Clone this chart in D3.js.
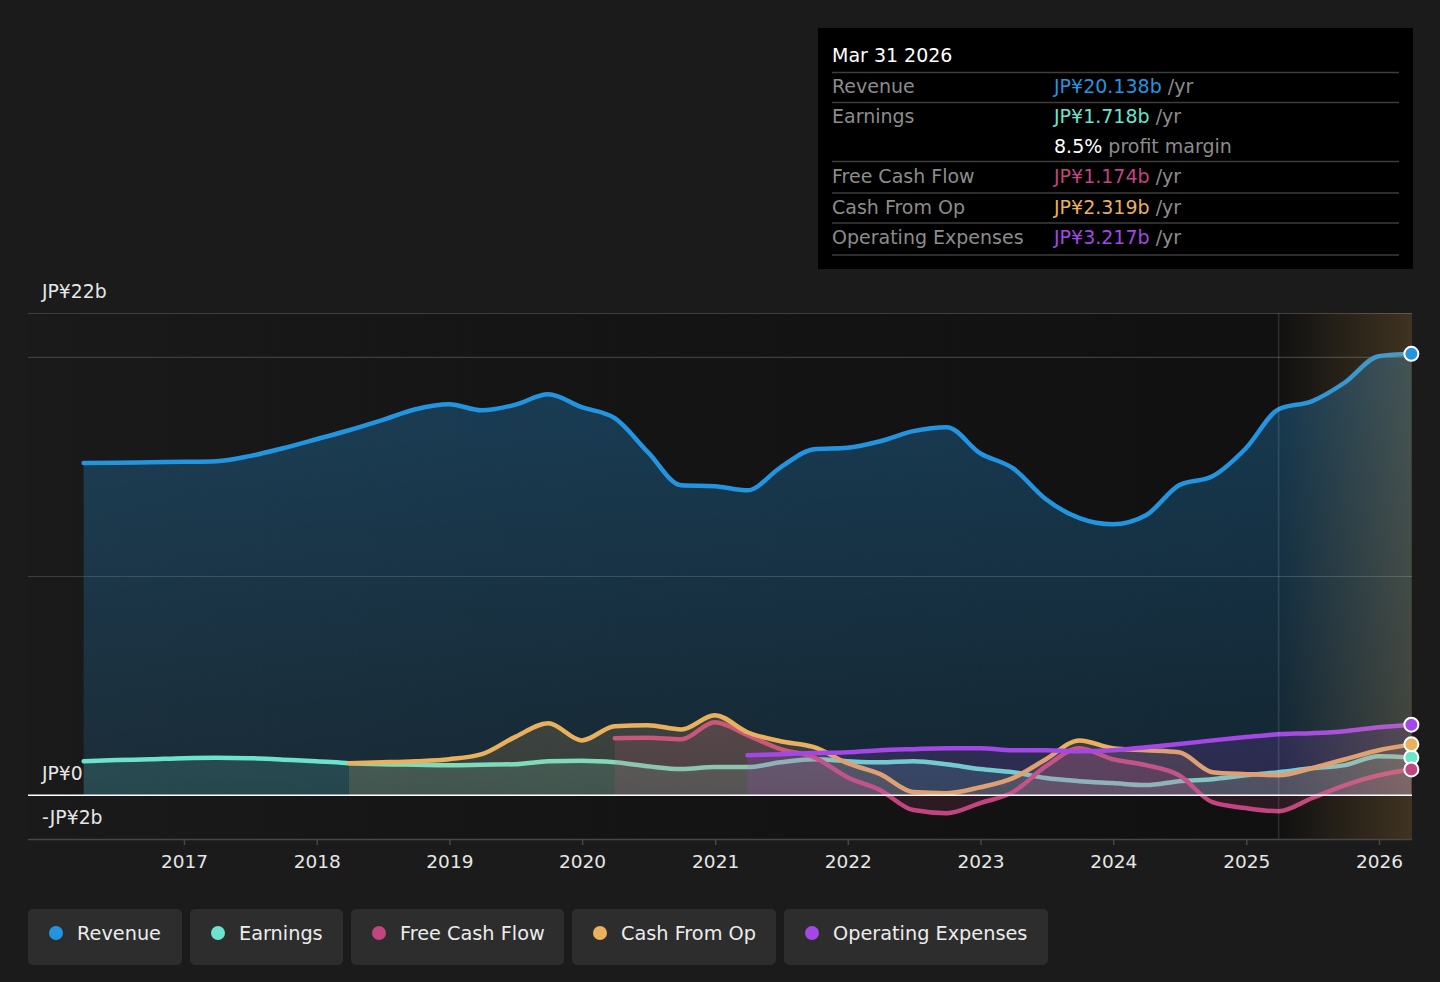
<!DOCTYPE html>
<html>
<head>
<meta charset="utf-8">
<script src="https://cdn.jsdelivr.net/npm/d3@7/dist/d3.min.js"></script>
<style>
  html, body { margin: 0; padding: 0; background: #1b1b1b; }
  svg { display: block; font-family: "DejaVu Sans", sans-serif; }
</style>
</head>
<body>
<svg id="chart" width="1440" height="982"></svg>
<script>
// ---------------- DATA ----------------
const quarters = [
  "2016-03-31","2016-06-30","2016-09-30","2016-12-31",
  "2017-03-31","2017-06-30","2017-09-30","2017-12-31",
  "2018-03-31","2018-06-30","2018-09-30","2018-12-31",
  "2019-03-31","2019-06-30","2019-09-30","2019-12-31",
  "2020-03-31","2020-06-30","2020-09-30","2020-12-31",
  "2021-03-31","2021-06-30","2021-09-30","2021-12-31",
  "2022-03-31","2022-06-30","2022-09-30","2022-12-31",
  "2023-03-31","2023-06-30","2023-09-30","2023-12-31",
  "2024-03-31","2024-06-30","2024-09-30","2024-12-31",
  "2025-03-31","2025-06-30","2025-09-30","2025-12-31",
  "2026-03-31"
];

// values in JP¥ billions
const revenue = [
  15.16,15.17,15.19,15.21, 15.24,15.47,15.83,16.24, 16.65,17.11,17.61,17.84,
  17.56,17.81,18.29,17.70, 17.20,15.65,14.14,14.10, 13.91,14.96,15.78,15.85,
  16.15,16.61,16.79,15.60, 14.92,13.50,12.64,12.36, 12.77,14.14,14.55,15.83,
  17.61,17.97,18.84,20.03, 20.138
];
const earnings = [
  1.55,1.60,1.64,1.69, 1.71,1.69,1.62,1.55, 1.46,1.41,1.39,1.37,
  1.39,1.41,1.55,1.57, 1.50,1.32,1.19,1.28, 1.28,1.50,1.64,1.55,
  1.50,1.55,1.41,1.19, 1.05,0.78,0.64,0.55, 0.46,0.64,0.73,0.91,
  1.05,1.23,1.37,1.78, 1.718
];
const freeCashFlow = [
  null,null,null,null, null,null,null,null, null,null,null,null,
  null,null,null,null, 2.60,2.62,2.55,3.33, 2.74,2.10,1.73,0.82,
  0.23,-0.68,-0.82,-0.36, 0.14,1.32,2.14,1.64, 1.37,0.91,-0.32,-0.59,
  -0.73,-0.14,0.46,0.91, 1.174
];
const cashFromOp = [
  null,null,null,null, null,null,null,null, 1.46,1.50,1.55,1.64,
  1.87,2.65,3.28,2.50, 3.15,3.19,3.00,3.65, 2.87,2.46,2.19,1.46,
  0.96,0.14,0.09,0.36, 0.78,1.64,2.50,2.14, 2.05,1.96,1.05,0.96,
  0.91,1.23,1.64,2.05, 2.319
];
const operatingExpenses = [
  null,null,null,null, null,null,null,null, null,null,null,null,
  null,null,null,null, null,null,null,null, 1.82,1.87,1.92,1.96,
  2.05,2.10,2.14,2.14, 2.05,2.05,2.00,2.05, 2.19,2.33,2.50,2.65,
  2.78,2.83,2.92,3.10, 3.217
];

const seriesNames  = ["Revenue","Earnings","Free Cash Flow","Cash From Op","Operating Expenses"];
const seriesValues = [revenue, earnings, freeCashFlow, cashFromOp, operatingExpenses];
const seriesColors = ["#2394df","#6ce3cd","#c2457f","#e9b05e","#a348e6"];

const yTickLabels = [{v:22, t:"JP¥22b"}, {v:0, t:"JP¥0"}, {v:-2, t:"-JP¥2b"}];
const yGridValues = [22, 20, 10];
const xTickYears  = [2017,2018,2019,2020,2021,2022,2023,2024,2025,2026];
const forecastStart = "2025-03-31";

const tooltipTitle = "Mar 31 2026";
const tooltipRows = [
  {label:"Revenue", value:"JP¥20.138b", suffix:" /yr", color:0},
  {label:"Earnings", value:"JP¥1.718b", suffix:" /yr", color:1},
  {label:"", value:"8.5%", suffix:" profit margin", color:-1},
  {label:"Free Cash Flow", value:"JP¥1.174b", suffix:" /yr", color:2},
  {label:"Cash From Op", value:"JP¥2.319b", suffix:" /yr", color:3},
  {label:"Operating Expenses", value:"JP¥3.217b", suffix:" /yr", color:4}
];

// ---------------- LAYOUT ----------------
const svg = d3.select("#chart");
const plotL = 28, plotR = 1412, plotT = 313, plotB = 839;
const parse = d3.timeParse("%Y-%m-%d");
const dates = quarters.map(parse);

const x = d3.scaleTime()
  .domain([new Date(2017,0,1), new Date(2026,0,1)])
  .range([184, 1379]);
const y = d3.scaleLinear().domain([-2, 22]).range([plotB, plotT]);

const defs = svg.append("defs");

// plot background gradient
const bg = defs.append("linearGradient").attr("id","plotbg").attr("x1",0).attr("x2",1).attr("y1",0).attr("y2",0);
bg.append("stop").attr("offset",0).attr("stop-color","#1a1a1a");
bg.append("stop").attr("offset",0.35).attr("stop-color","#151515");
bg.append("stop").attr("offset",1).attr("stop-color","#101010");

svg.append("rect").attr("x",0).attr("y",0).attr("width",1440).attr("height",982).attr("fill","#1b1b1b");
svg.append("rect").attr("x",plotL).attr("y",plotT).attr("width",plotR-plotL).attr("height",plotB-plotT).attr("fill","url(#plotbg)");

// gridlines
svg.append("g")
  .attr("transform",`translate(${plotL},0)`)
  .call(d3.axisLeft(y).tickValues(yGridValues).tickSize(-(plotR-plotL)).tickFormat(""))
  .call(g => g.select(".domain").remove())
  .call(g => g.selectAll(".tick line").attr("stroke","#3e3e3e").attr("stroke-width",1.2));

// series gradients
seriesColors.forEach((c,i) => {
  const g = defs.append("linearGradient").attr("id","ag"+i)
    .attr("gradientUnits","userSpaceOnUse").attr("x1",0).attr("x2",0)
    .attr("y1",plotT).attr("y2",y(0));
  g.append("stop").attr("offset",0).attr("stop-color",c).attr("stop-opacity",0.34);
  g.append("stop").attr("offset",1).attr("stop-color",c).attr("stop-opacity",0.15);
});

const plotG = svg.append("g");
seriesValues.forEach((vals,i) => {
  const pts = dates.map((d,k) => ({d, v: vals[k]}));
  const area = d3.area()
    .defined(p => p.v !== null)
    .x(p => x(p.d)).y0(y(0)).y1(p => y(p.v))
    .curve(d3.curveMonotoneX);
  const line = d3.line()
    .defined(p => p.v !== null)
    .x(p => x(p.d)).y(p => y(p.v))
    .curve(d3.curveMonotoneX);
  plotG.append("path").datum(pts).attr("d",area).attr("fill",`url(#ag${i})`);
  plotG.append("path").datum(pts).attr("d",line)
    .attr("fill","none").attr("stroke",seriesColors[i]).attr("stroke-width",4.5)
    .attr("stroke-linejoin","round").attr("stroke-linecap","round");
});

// forecast overlay
const fg = defs.append("linearGradient").attr("id","fc").attr("x1",0).attr("x2",1).attr("y1",0).attr("y2",0);
fg.append("stop").attr("offset",0).attr("stop-color","#e8af5b").attr("stop-opacity",0.0);
fg.append("stop").attr("offset",1).attr("stop-color","#e8af5b").attr("stop-opacity",0.22);
const fx = x(parse(forecastStart));
svg.append("rect").attr("x",fx).attr("y",plotT).attr("width",plotR-fx).attr("height",plotB-plotT)
  .attr("fill","url(#fc)");
svg.append("line").attr("x1",fx).attr("x2",fx).attr("y1",plotT).attr("y2",plotB)
  .attr("stroke","#ffffff").attr("stroke-opacity",0.12).attr("stroke-width",1.5);

// zero line
svg.append("line").attr("x1",plotL).attr("x2",plotR).attr("y1",y(0)).attr("y2",y(0))
  .attr("stroke","#ffffff").attr("stroke-width",1.5);

// x axis
svg.append("g")
  .attr("transform",`translate(0,${plotB})`)
  .call(d3.axisBottom(x).tickValues(xTickYears.map(yr => new Date(yr,0,1)))
        .tickSize(6).tickPadding(6).tickFormat(d3.timeFormat("%Y")))
  .call(g => g.select(".domain").attr("d",`M${plotL},0.5H${plotR}`).attr("stroke","#474747").attr("stroke-width",1.5))
  .call(g => g.selectAll(".tick line").attr("stroke","#474747").attr("stroke-width",1.5))
  .call(g => g.selectAll(".tick text").attr("fill","#e6e6e6").attr("font-size",18.5)
        .attr("font-family","DejaVu Sans").attr("dy","0.93em"));

// y labels
svg.append("g").selectAll("text").data(yTickLabels).join("text")
  .attr("x",42).attr("y",d => y(d.v) - 15)
  .attr("fill","#e6e6e6").attr("font-size",18.8).text(d => d.t);

// end markers
const lastIdx = dates.length - 1;
svg.append("g").selectAll("circle").data(seriesValues.map((v,i)=>({v:v[lastIdx], i}))).join("circle")
  .attr("cx", x(dates[lastIdx])).attr("cy", d => y(d.v)).attr("r",7)
  .attr("fill", d => seriesColors[d.i]).attr("stroke","#ffffff").attr("stroke-width",2);

// tooltip
const tt = svg.append("g");
tt.append("rect").attr("x",818).attr("y",28).attr("width",595).attr("height",241).attr("fill","#000000");
tt.append("text").attr("x",832).attr("y",62).attr("fill","#ffffff").attr("font-size",19).text(tooltipTitle);
const lineYs = [72.5, 102.5, 161.5, 193, 223, 255];
lineYs.forEach(ly => tt.append("line").attr("x1",832).attr("x2",1399).attr("y1",ly).attr("y2",ly)
  .attr("stroke","#3d3d3d").attr("stroke-width",1.5));
const rowYs = [93, 123, 153, 183, 214, 244];
tooltipRows.forEach((r,k) => {
  tt.append("text").attr("x",832).attr("y",rowYs[k]).attr("fill","#8c8c8c").attr("font-size",19).text(r.label);
  const t = tt.append("text").attr("x",1054).attr("y",rowYs[k]).attr("font-size",19);
  t.append("tspan").attr("fill", r.color >= 0 ? seriesColors[r.color] : "#ffffff").text(r.value);
  t.append("tspan").attr("fill","#8c8c8c").text(r.suffix);
});

// legend
const legendX = [28, 190, 351, 572, 784];
const legendW = [154, 153, 213, 204, 264];
const lg = svg.append("g");
seriesNames.forEach((n,i) => {
  const g = lg.append("g").attr("transform",`translate(${legendX[i]},909)`);
  g.append("rect").attr("width",legendW[i]).attr("height",56).attr("rx",5).attr("fill","#2d2d2d");
  g.append("circle").attr("cx",28).attr("cy",24).attr("r",7).attr("fill",seriesColors[i]);
  g.append("text").attr("x",49).attr("y",31).attr("fill","#ececec").attr("font-size",19.3).text(n);
});
</script>
</body>
</html>
